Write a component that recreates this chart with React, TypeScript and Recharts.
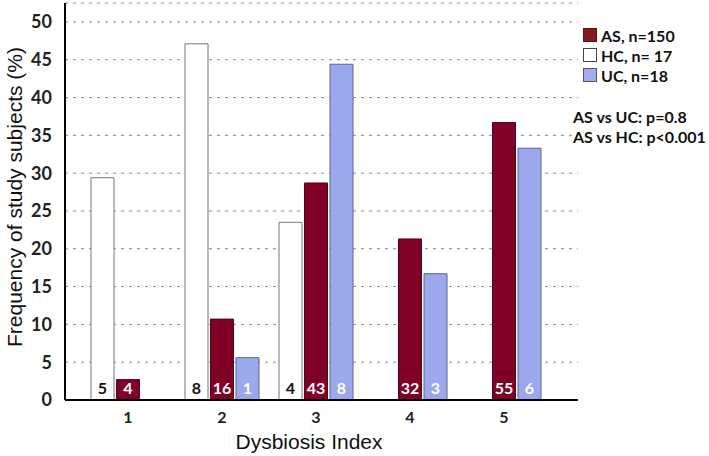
import React from 'react';
import { Bar, BarChart, CartesianGrid, LabelList, XAxis, YAxis } from 'recharts';

const categories = ['1', '2', '3', '4', '5'];
const hcPct = [29.4, 47.1, 23.5, 0, 0];
const asPct = [2.7, 10.7, 28.7, 21.3, 36.7];
const ucPct = [0, 5.6, 44.4, 16.7, 33.3];
const hcCount = [5, 8, 4, 0, 0];
const asCount = [4, 16, 43, 32, 55];
const ucCount = [0, 1, 8, 3, 6];
const yTicks = [0, 5, 10, 15, 20, 25, 30, 35, 40, 45, 50];

const data = categories.map((c, i) => ({
  idx: c,
  HC: hcPct[i],
  AS: asPct[i],
  UC: ucPct[i],
  hcN: hcCount[i],
  asN: asCount[i],
  ucN: ucCount[i],
}));

const labelFont = 'Lato, "Liberation Sans", sans-serif';
const titleFont = '"Liberation Sans", Arial, sans-serif';

const countLabel = (color: string) => (props: any) => {
  const { x, y, width, height, value } = props;
  if (!value) return null;
  return (
    <text
      x={x + width / 2}
      y={y + height - 6}
      textAnchor="middle"
      fill={color}
      fontFamily={labelFont}
      fontWeight="bold"
      fontSize={16}
    >
      {value}
    </text>
  );
};

const YTitle = (props: any) => {
  const cy = 197;
  return (
    <text
      x={14}
      y={cy}
      transform={`rotate(-90, 14, ${cy})`}
      textAnchor="middle"
      dominantBaseline="central"
      fill="#111"
      fontSize={21}
      fontFamily={titleFont}
    >
      Frequency of study subjects (%)
    </text>
  );
};

const XTitle = (props: any) => {
  return (
    <text x={309} y={449} textAnchor="middle" fill="#111" fontSize={21} fontFamily={titleFont}>
      Dysbiosis Index
    </text>
  );
};

const LegendBox = () => {
  const items = [
    { name: 'AS, n=150', fill: '#861a22', stroke: '#5a1015' },
    { name: 'HC, n= 17', fill: '#ffffff', stroke: '#444' },
    { name: 'UC, n=18', fill: '#a3acf0', stroke: '#555' },
  ];
  return (
    <div
      style={{
        position: 'absolute',
        left: 583,
        top: 25,
        fontFamily: labelFont,
        fontWeight: 'bold',
        fontSize: 16,
        color: '#111',
      }}
    >
      {items.map((it) => (
        <div key={it.name} style={{ display: 'flex', alignItems: 'center', height: 20, whiteSpace: 'nowrap' }}>
          <span
            style={{
              display: 'inline-block',
              width: 12,
              height: 12,
              background: it.fill,
              border: `1px solid ${it.stroke}`,
              marginRight: 4,
            }}
          />
          {it.name}
        </div>
      ))}
      <div style={{ marginTop: 22, marginLeft: -10, lineHeight: '20px', whiteSpace: 'nowrap' }}>
        <div>AS vs UC: p=0.8</div>
        <div>AS vs HC: p&lt;0.001</div>
      </div>
    </div>
  );
};

const App = () => {
  return (
    <div style={{ position: 'absolute', left: 0, top: 0, width: 709, height: 456, background: '#fff' }}>
      <BarChart
        width={709}
        height={456}
        data={data}
        margin={{ top: 3, right: 131, left: 0, bottom: 0 }}
        barSize={23}
        barGap={2.5}
      >
        <CartesianGrid vertical={false} stroke="#8a8a8a" strokeDasharray="3 5" />
        <XAxis
          dataKey="idx"
          height={56}
          padding={{ left: 16, right: 27 }}
          axisLine={{ stroke: '#000', strokeWidth: 2 }}
          tickLine={false}
          tick={{ fill: '#222', fontSize: 16, fontWeight: 'bold', fontFamily: labelFont }}
          tickMargin={6}
          label={<XTitle />}
        />
        <YAxis
          width={65}
          domain={[0, 52.5]}
          ticks={yTicks}
          interval={0}
          axisLine={{ stroke: '#000', strokeWidth: 2 }}
          tickLine={false}
          tickMargin={7}
          tick={{ fill: '#222', fontSize: 18, fontWeight: 'bold', fontFamily: labelFont }}
          label={<YTitle />}
        />
        <Bar dataKey="HC" fill="#ffffff" stroke="#777" isAnimationActive={false}>
          <LabelList dataKey="hcN" content={countLabel('#111')} />
        </Bar>
        <Bar dataKey="AS" fill="#800028" stroke="#4a0a18" isAnimationActive={false}>
          <LabelList dataKey="asN" content={countLabel('#fff')} />
        </Bar>
        <Bar dataKey="UC" fill="#9ba9ec" stroke="#5b6490" isAnimationActive={false}>
          <LabelList dataKey="ucN" content={countLabel('#fff')} />
        </Bar>
      </BarChart>
      <LegendBox />
    </div>
  );
};

export default App;
